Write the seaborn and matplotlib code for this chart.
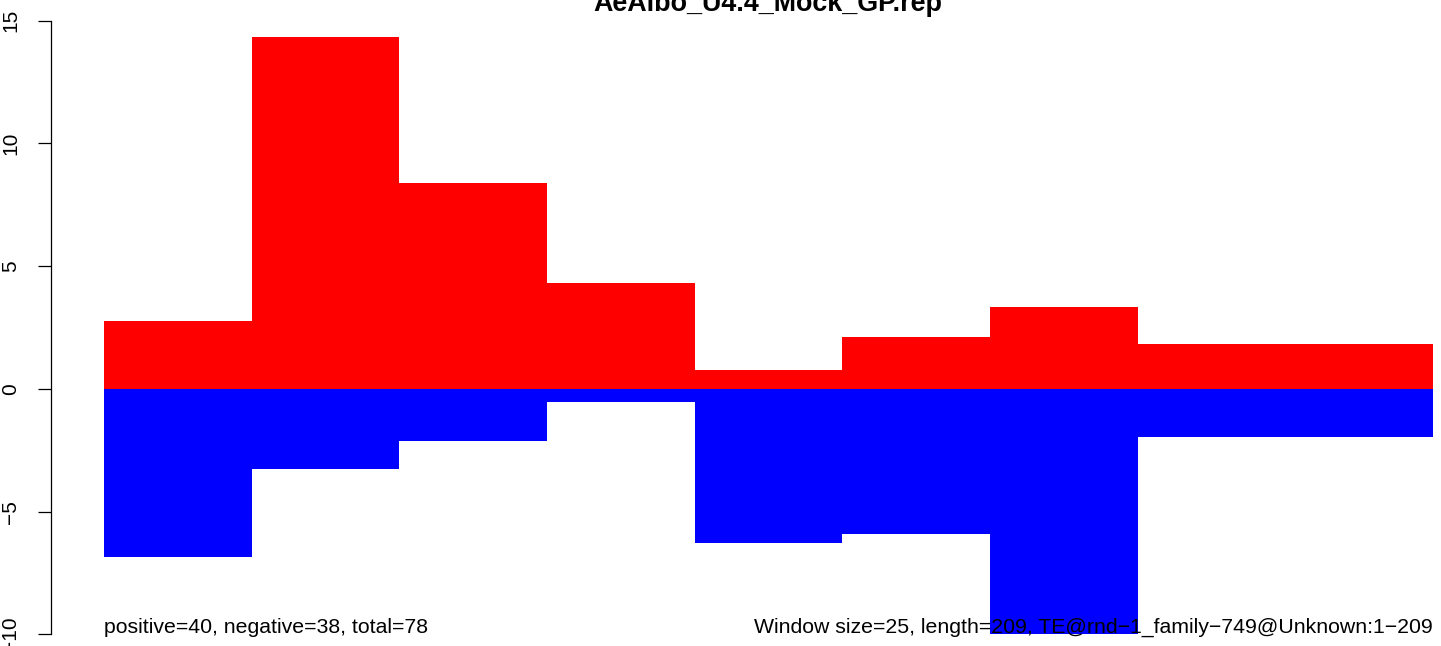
"""Windowed positive/negative read coverage along a TE consensus."""

import matplotlib.pyplot as plt
import pandas as pd
import seaborn as sns

TITLE = "AeAlbo_U4.4_Mock_GP.rep"
WINDOWS = ["1-25", "26-50", "51-75", "76-100", "101-125",
           "126-150", "151-175", "176-200", "201-209"]
POSITIVE = [2.77, 14.34, 8.39, 4.32, 0.77, 2.11, 3.34, 1.84, 1.84]
NEGATIVE = [-6.84, -3.26, -2.12, -0.53, -6.28, -5.91, -10.1, -1.96, -1.96]
Y_TICKS = [-10, -5, 0, 5, 10, 15]
LEFT_NOTE = "positive=40, negative=38, total=78"
RIGHT_NOTE = "Window size=25, length=209, TE@rnd\u22121_family\u2212749@Unknown:1\u2212209"

sns.set_theme(style="white")
plt.rcParams["font.family"] = ["Liberation Sans", "DejaVu Sans"]
plt.rcParams["text.color"] = "black"

df = pd.DataFrame({"window": WINDOWS, "positive": POSITIVE, "negative": NEGATIVE})

W, H = 1441, 646
fig = plt.figure(figsize=(W / 100, H / 100), dpi=100)
ax = fig.add_axes([50.7 / W, (H - 634.3) / H, (1486 - 50.7) / W, (634.3 - 20.7) / H])

sns.barplot(data=df, x="window", y="positive", order=WINDOWS, color="#FF0000",
            saturation=1, width=1, linewidth=0, ax=ax)
sns.barplot(data=df, x="window", y="negative", order=WINDOWS, color="#0000FF",
            saturation=1, width=1, linewidth=0, ax=ax)

ax.set_xlim(-0.5 - 53.3 / 147.67, 8.5 + 53 / 147.67)
ax.set_ylim(-10, 15)
ax.set_yticks(Y_TICKS)
ax.set_yticklabels([str(t).replace("-", "\u2212") for t in Y_TICKS],
                   rotation=90, va="center", fontsize=15)
ax.tick_params(axis="y", left=True, direction="out", length=9.4, width=0.9,
               pad=12.7, colors="black")
ax.xaxis.set_visible(False)
ax.set_ylabel("")
for side in ["top", "right", "bottom"]:
    ax.spines[side].set_visible(False)
ax.spines["left"].set_bounds(-10, 15)
ax.spines["left"].set_linewidth(0.9)
ax.spines["left"].set_color("black")

ax.text(-0.5, -9.95, LEFT_NOTE, ha="left", va="baseline", fontsize=15.3,
        color="black", zorder=5)
ax.text(8.5, -9.95, RIGHT_NOTE, ha="right", va="baseline", fontsize=15.3,
        color="black", zorder=5)

fig.text(768 / W, (H - 11) / H, TITLE, ha="center", va="baseline",
         fontsize=19.4, fontweight="bold", color="black")

fig.savefig("out.png", dpi=100)
